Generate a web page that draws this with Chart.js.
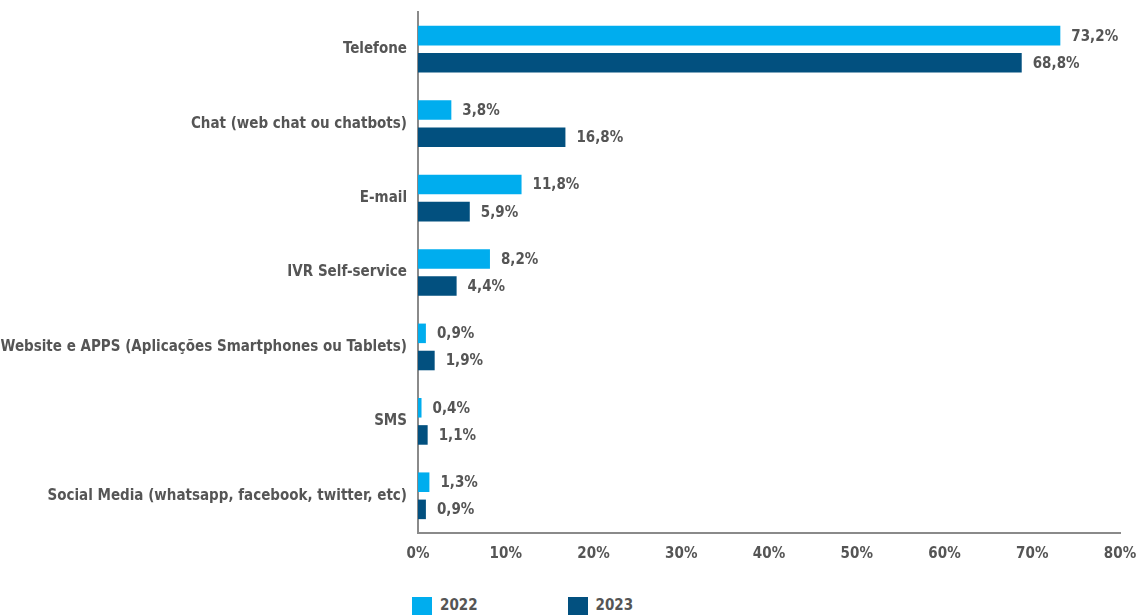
<!DOCTYPE html>
<html>
<head>
<meta charset="utf-8">
<script src="https://cdn.jsdelivr.net/npm/chart.js@4.4.1/dist/chart.umd.min.js"></script>
<style>
    html, body { margin: 0; padding: 0; background: #fff; }
    #wrap { position: relative; width: 1142px; height: 615px; overflow: hidden; }
    #chartBox { position: absolute; left: 0; top: 0; width: 1142px; height: 575px; }
    #legend { position: absolute; left: 412px; top: 596px; display: flex; }
    .item { display: flex; align-items: flex-start; font: bold 15px "DejaVu Sans Condensed", "DejaVu Sans", sans-serif; color: #555; }
    .item .box { width: 20px; height: 19px; margin-right: 8px; margin-top: 1px; }
    .item + .item { margin-left: 90px; }
</style>
</head>
<body>
<div id="wrap">
    <div id="chartBox"><canvas id="channelChart"></canvas></div>
    <div id="legend"></div>
</div>
<script>
// Contact channels, share of contacts per year
const channels = [
    "Telefone",
    "Chat (web chat ou chatbots)",
    "E-mail",
    "IVR Self-service",
    "Website e APPS (Aplicações Smartphones ou Tablets)",
    "SMS",
    "Social Media (whatsapp, facebook, twitter, etc)"
];
const share2022 = [73.2, 3.8, 11.8, 8.2, 0.9, 0.4, 1.3];
const share2023 = [68.8, 16.8, 5.9, 4.4, 1.9, 1.1, 0.9];
const xTicks = [0, 10, 20, 30, 40, 50, 60, 70, 80];

const FONT = "'DejaVu Sans Condensed', 'DejaVu Sans', sans-serif";
const TEXT_COLOR = "#555";

function pct(v) {
    return v.toFixed(1).replace(".", ",") + "%";
}

// Value labels at the end of each bar
const barValueLabels = {
    id: "barValueLabels",
    afterDatasetsDraw(chart) {
        const ctx = chart.ctx;
        ctx.save();
        ctx.font = "bold 15px " + FONT;
        ctx.fillStyle = TEXT_COLOR;
        ctx.textAlign = "left";
        ctx.textBaseline = "middle";
        chart.data.datasets.forEach((ds, i) => {
            chart.getDatasetMeta(i).data.forEach((bar, j) => {
                ctx.fillText(pct(ds.data[j]), bar.x + 11, bar.y + 1);
            });
        });
        ctx.restore();
    }
};

const ctx = document.getElementById("channelChart").getContext("2d");
const chart = new Chart(ctx, {
    type: "bar",
    data: {
        labels: channels,
        datasets: [
            {
                label: "2022",
                data: share2022,
                backgroundColor: "#00adee",
                categoryPercentage: 0.73,
                barPercentage: 0.72,
            },
            {
                label: "2023",
                data: share2023,
                backgroundColor: "#02507f",
                categoryPercentage: 0.73,
                barPercentage: 0.72,
            },
        ],
    },
    options: {
        indexAxis: "y",
        responsive: true,
        maintainAspectRatio: false,
        animation: false,
        layout: {
            padding: { top: 12, right: 22, bottom: 0, left: 0 },
        },
        plugins: {
            legend: { display: false },
            tooltip: { enabled: false },
        },
        scales: {
            x: {
                min: 0,
                max: 80,
                afterBuildTicks(axis) {
                    axis.ticks = xTicks.map(v => ({ value: v }));
                },
                afterFit(axis) {
                    axis.paddingLeft = 0;
                    axis.paddingRight = 0;
                },
                grid: { display: false, drawTicks: false },
                border: { display: true, color: "#8a8a8a", width: 2 },
                ticks: {
                    padding: 12,
                    color: TEXT_COLOR,
                    font: { family: FONT, size: 15, weight: "bold" },
                    callback: v => v + "%",
                    maxRotation: 0,
                },
            },
            y: {
                afterFit(axis) {
                    axis.width = 418;
                    axis.paddingTop = 0;
                    axis.paddingBottom = 0;
                },
                grid: { display: false, drawTicks: false },
                border: { display: true, color: "#8a8a8a", width: 2 },
                ticks: {
                    padding: 11,
                    color: TEXT_COLOR,
                    font: { family: FONT, size: 15, weight: "bold" },
                    autoSkip: false,
                },
            },
        },
    },
    plugins: [barValueLabels],
});

// Legend below the chart
const legendEl = document.getElementById("legend");
chart.data.datasets.forEach(ds => {
    const item = document.createElement("div");
    item.className = "item";
    const box = document.createElement("span");
    box.className = "box";
    box.style.background = ds.backgroundColor;
    const text = document.createElement("span");
    text.textContent = ds.label;
    item.appendChild(box);
    item.appendChild(text);
    legendEl.appendChild(item);
});
</script>
</body>
</html>
